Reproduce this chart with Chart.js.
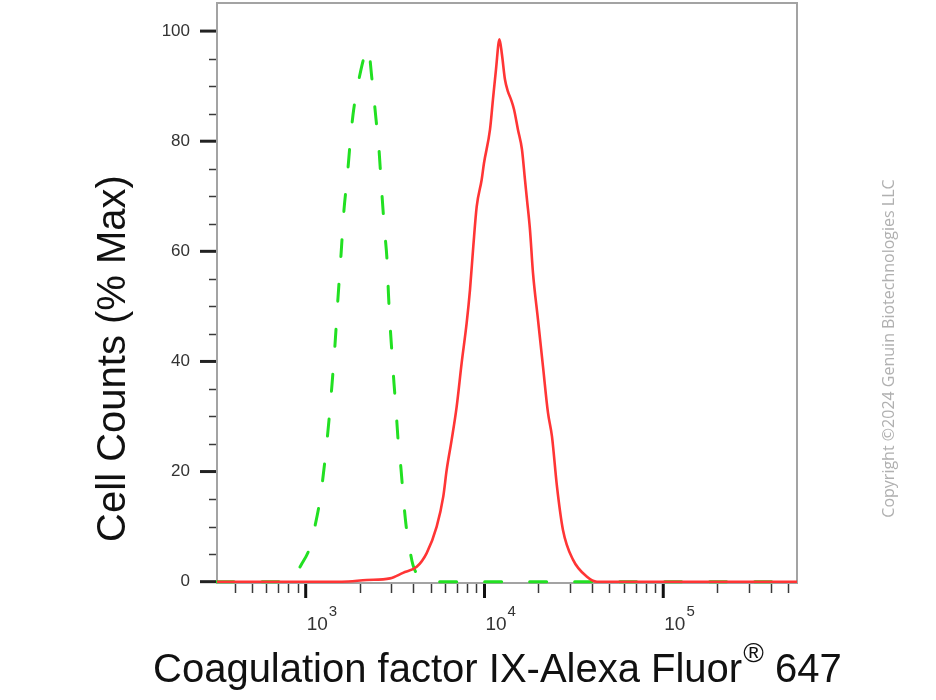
<!DOCTYPE html>
<html>
<head>
<meta charset="utf-8">
<script src="https://cdn.jsdelivr.net/npm/chart.js@4.4.1/dist/chart.umd.min.js"></script>
<style>
  html, body { margin: 0; padding: 0; background: #ffffff; }
  canvas { display: block; }
</style>
</head>
<body>
<canvas id="c" width="936" height="700"></canvas>
<script>
// ---------- data ----------
const isotypeX = [319, 737, 838, 941, 1057, 1127, 1202, 1282, 1350, 1403, 1458, 1516, 1576, 1638, 1702, 1769, 1839, 1936, 2038, 2119, 2231,
                  2349, 2473, 2570, 2637, 2706, 2776, 2849, 2905, 2961, 3039, 3118, 3199, 3283, 3412, 3524, 3640, 3782, 3983, 4247, 4648, 5087, 10000, 100000, 560000];
const isotypeY = [0, 0, 0.5, 3.0, 6.3, 10.1, 14.9, 22.1, 29.4, 35.8, 43.0, 51.6, 59.4, 67.6, 73.0, 79.4, 84.8, 89.4, 93.0, 95.2, 96.9,
                  91.2, 84.0, 78.5, 73.0, 67.6, 63.0, 58.5, 52.1, 46.9, 41.4, 36.0, 31.4, 25.9, 20.5, 14.9, 10.3, 6.7, 3.0, 1.2, 0.3, 0, 0, 0, 0];

const stainedX = [319, 1590, 2194, 2961, 3502, 4177, 4750, 5403, 5884, 6146, 6556, 6990, 7457, 7951, 8297, 8659, 9046, 9645, 9935, 10735, 11155, 11596, 12130,
                  12528, 13021, 13534, 14065, 14622, 15392, 16207, 16846, 17287, 17970, 18679, 19921, 21245, 22654, 23852, 25436, 27480, 31262, 37436, 42587, 560000];
const stainedY = [0, 0, 0.3, 0.6, 1.6, 2.7, 5.2, 10.0, 15.5, 20.3, 25.8, 31.8, 39.8, 47.0, 53.0, 60.9, 68.1, 73.0, 76.0, 82.1, 87.6, 93.0, 98.5,
                  95.7, 91.2, 89.0, 87.6, 85.8, 82.1, 78.5, 73.0, 69.4, 63.9, 56.1, 47.6, 39.1, 30.7, 26.4, 17.3, 9.4, 4.0, 0.9, 0, 0];

// ---------- axes / ticks / labels ----------
const yMajorTicks = [0, 20, 40, 60, 80, 100];
const yMinorTicks = [5, 10, 15, 25, 30, 35, 45, 50, 55, 65, 70, 75, 85, 90, 95];
const xMajorTicks = [1e3, 1e4, 1e5];
const xTickBase = ['10', '10', '10'];
const xTickExponents = ['3', '4', '5'];
const xMinorTicks = [400, 500, 600, 700, 800, 900,
                     2000, 3000, 4000, 5000, 6000, 7000, 8000, 9000,
                     20000, 30000, 40000, 50000, 60000, 70000, 80000, 90000,
                     200000, 300000, 400000, 500000];
const xRange = [319, 560000];
const yRange = [-0.24, 105.1];

const yTitle = 'Cell Counts (% Max)';
const xTitleMain = 'Coagulation factor IX-Alexa Fluor';
const xTitleSup = '\u00AE';
const xTitleEnd = ' 647';
const watermark = 'Copyright \u00A92024 Genuin Biotechnologies LLC';

const FONT = '"Liberation Sans", Arial, Helvetica, sans-serif';

function seg(ctx, x1, y1, x2, y2, w, c) {
  ctx.beginPath();
  ctx.lineWidth = w;
  ctx.strokeStyle = c;
  ctx.moveTo(x1, y1);
  ctx.lineTo(x2, y2);
  ctx.stroke();
}

const decor = {
  id: 'decor',
  beforeDatasetsDraw(chart) {
    const { ctx, chartArea: a } = chart;
    ctx.save();
    ctx.strokeStyle = '#a3a3a3';
    ctx.lineWidth = 2;
    ctx.strokeRect(a.left, a.top, a.right - a.left, a.bottom - a.top);
    ctx.restore();
  },
  afterDraw(chart) {
    const { ctx, chartArea: a, scales } = chart;
    const x = scales.x, y = scales.y;
    ctx.save();
    ctx.lineCap = 'butt';
    // y ticks
    yMinorTicks.forEach(v => {
      const py = Math.round(y.getPixelForValue(v)) + 0.5;
      seg(ctx, a.left - 8, py, a.left - 1, py, 1.5, '#3a3a3a');
    });
    yMajorTicks.forEach(v => {
      const py = y.getPixelForValue(v);
      seg(ctx, a.left - 17, py, a.left - 1, py, 3, '#222222');
    });
    // x ticks
    xMinorTicks.forEach(v => {
      const px = Math.round(x.getPixelForValue(v)) + 0.5;
      seg(ctx, px, a.bottom + 1, px, a.bottom + 10, 1.5, '#3a3a3a');
    });
    xMajorTicks.forEach(v => {
      const px = x.getPixelForValue(v);
      seg(ctx, px, a.bottom + 1, px, a.bottom + 15, 3, '#111111');
    });
    // x tick labels (10 with superscript exponent)
    ctx.fillStyle = '#333333';
    ctx.textAlign = 'left';
    ctx.textBaseline = 'alphabetic';
    xMajorTicks.forEach((v, i) => {
      const px = x.getPixelForValue(v) + 1;
      ctx.font = '19px ' + FONT;
      ctx.fillText(xTickBase[i], px, 630);
      const w = ctx.measureText(xTickBase[i]).width;
      ctx.font = '15px ' + FONT;
      ctx.fillText(xTickExponents[i], px + w + 1, 616);
    });
    // y axis title
    ctx.fillStyle = '#111111';
    ctx.save();
    ctx.translate(125, 358.5);
    ctx.rotate(-Math.PI / 2);
    ctx.font = '40px ' + FONT;
    ctx.textAlign = 'center';
    ctx.fillText(yTitle, 0, 0);
    ctx.restore();
    // x axis title
    ctx.textAlign = 'left';
    let tx = 153;
    ctx.font = '40px ' + FONT;
    ctx.fillText(xTitleMain, tx, 681.5);
    tx += ctx.measureText(xTitleMain).width + 1;
    ctx.font = '28px ' + FONT;
    ctx.fillText(xTitleSup, tx, 662);
    tx += ctx.measureText(xTitleSup).width;
    ctx.font = '40px ' + FONT;
    ctx.fillText(xTitleEnd, tx, 681.5);
    // watermark
    ctx.save();
    ctx.translate(894, 348.5);
    ctx.rotate(-Math.PI / 2);
    ctx.font = '16px "Open Sans", "Noto Sans", sans-serif';
    ctx.fillStyle = '#b0b0b0';
    ctx.textAlign = 'center';
    ctx.fillText(watermark, 0, 0);
    ctx.restore();
    ctx.restore();
  }
};

const toPoints = (xs, ys) => xs.map((v, i) => ({ x: v, y: ys[i] }));

new Chart(document.getElementById('c'), {
  type: 'line',
  data: {
    datasets: [
      {
        label: 'Coagulation factor IX',
        data: toPoints(stainedX, stainedY),
        borderColor: '#ff3535',
        borderWidth: 2.6,
        pointRadius: 0,
        cubicInterpolationMode: 'monotone',
        fill: false,
        clip: false
      },
      {
        label: 'Isotype control',
        data: toPoints(isotypeX, isotypeY),
        borderColor: '#22e022',
        borderWidth: 3,
        borderDash: [17, 28],
        borderCapStyle: 'round',
        pointRadius: 0,
        cubicInterpolationMode: 'monotone',
        fill: false,
        clip: false
      }
    ]
  },
  options: {
    responsive: false,
    animation: false,
    devicePixelRatio: 1,
    layout: { padding: { left: 0, top: 3, right: 139, bottom: 0 } },
    plugins: { legend: { display: false }, tooltip: { enabled: false }, title: { display: false } },
    scales: {
      x: {
        type: 'logarithmic',
        min: xRange[0],
        max: xRange[1],
        afterBuildTicks: s => { s.ticks = xMajorTicks.map(v => ({ value: v })); },
        afterFit: s => { s.height = 117; s.paddingLeft = 0; s.paddingRight = 0; s.paddingTop = 0; s.paddingBottom = 0; },
        grid: { display: false, drawTicks: false },
        border: { display: false },
        ticks: { display: false }
      },
      y: {
        type: 'linear',
        min: yRange[0],
        max: yRange[1],
        afterBuildTicks: s => { s.ticks = yMajorTicks.map(v => ({ value: v })); },
        afterFit: s => { s.width = 217; s.paddingTop = 0; s.paddingBottom = 0; s.paddingLeft = 0; s.paddingRight = 0; },
        grid: { display: false, drawTicks: false },
        border: { display: false },
        ticks: {
          padding: 27,
          color: '#333333',
          font: { family: FONT, size: 17 },
          callback: v => String(v)
        }
      }
    }
  },
  plugins: [decor]
});
</script>
</body>
</html>
